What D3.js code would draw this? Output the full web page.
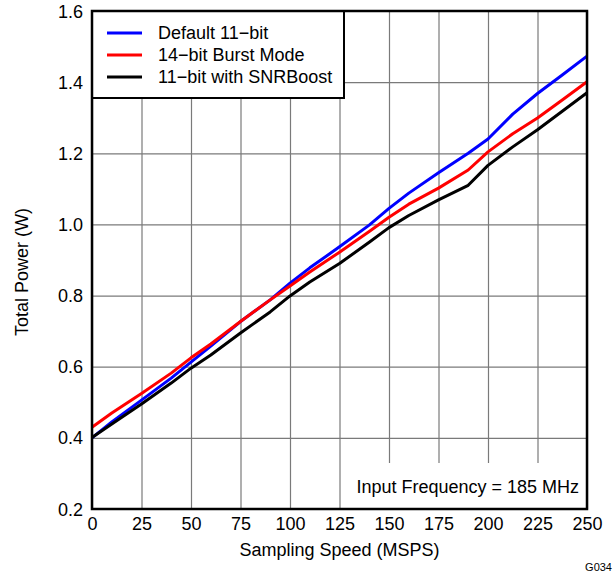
<!DOCTYPE html>
<html>
<head>
<meta charset="utf-8">
<script src="https://cdn.jsdelivr.net/npm/d3@7/dist/d3.min.js"></script>
<style>
    html, body { margin: 0; padding: 0; background: #fff; overflow: hidden; }
    svg { display: block; }
    text { font-family: "Liberation Sans", Arial, sans-serif; fill: #000; }
</style>
</head>
<body>
<div id="chart"></div>
<script>
// Sampling speeds (MSPS) shared by every series
const speeds = [0, 10, 25, 40, 50, 60, 75, 90, 100, 110, 125, 140, 150, 160, 175, 190, 200, 212.5, 225, 237.5, 250];

// Total power (W)
const default11 = [0.400, 0.445, 0.506, 0.568, 0.613, 0.658, 0.727, 0.788, 0.835, 0.878, 0.937, 0.998, 1.045, 1.088, 1.145, 1.200, 1.240, 1.310, 1.368, 1.420, 1.473];
const burst14   = [0.430, 0.470, 0.525, 0.582, 0.625, 0.664, 0.727, 0.788, 0.827, 0.866, 0.922, 0.980, 1.020, 1.057, 1.102, 1.153, 1.204, 1.255, 1.299, 1.350, 1.401];
const snrBoost  = [0.401, 0.439, 0.495, 0.554, 0.596, 0.633, 0.695, 0.754, 0.799, 0.838, 0.890, 0.950, 0.991, 1.025, 1.069, 1.110, 1.166, 1.218, 1.266, 1.318, 1.370];

const seriesNames  = ["Default 11\u2212bit", "14\u2212bit Burst Mode", "11\u2212bit with SNRBoost"];
const seriesColors = ["#0000ff", "#ff0000", "#000000"];
const seriesValues = [default11, burst14, snrBoost];

const xTicks = [0, 25, 50, 75, 100, 125, 150, 175, 200, 225, 250];
const yTicks = [0.2, 0.4, 0.6, 0.8, 1.0, 1.2, 1.4, 1.6];

const width = 616, height = 575;
const margin = {top: 11, right: 29, bottom: 66, left: 92};
const innerWidth = width - margin.left - margin.right;
const innerHeight = height - margin.top - margin.bottom;

const svg = d3.select("#chart").append("svg")
    .attr("width", width)
    .attr("height", height);

const g = svg.append("g")
    .attr("transform", `translate(${margin.left}, ${margin.top})`);

const x = d3.scaleLinear().domain([0, 250]).range([0, innerWidth]);
const y = d3.scaleLinear().domain([0.2, 1.6]).range([innerHeight, 0]);

// grid + tick labels, gridlines span the full plot
const xAxis = g.append("g")
    .attr("transform", `translate(0, ${innerHeight})`)
    .call(d3.axisBottom(x).tickValues(xTicks).tickSizeInner(-innerHeight).tickSizeOuter(0).tickPadding(8));

const yAxis = g.append("g")
    .call(d3.axisLeft(y).tickValues(yTicks).tickFormat(d3.format(".1f")).tickSizeInner(-innerWidth).tickSizeOuter(0).tickPadding(9));

[xAxis, yAxis].forEach(axis => {
    axis.attr("font-size", 18).attr("font-family", "Liberation Sans, Arial, sans-serif");
    axis.select(".domain").remove();
    axis.selectAll(".tick line").attr("stroke", "#7a7a7a").attr("stroke-width", 1.2);
});

// plain baselines instead of dy offsets
xAxis.selectAll(".tick text").attr("dy", null).attr("y", 21);
yAxis.selectAll(".tick text").attr("dy", null).attr("y", 6);

// curves
const line = d3.line()
    .x((d, i) => x(speeds[i]))
    .y(d => y(d));

seriesValues.forEach((values, i) => {
    g.append("path")
        .datum(values)
        .attr("fill", "none")
        .attr("stroke", seriesColors[i])
        .attr("stroke-width", 3)
        .attr("stroke-linejoin", "round")
        .attr("d", line);
});

// annotation box sits over the gridlines
const note = g.append("g");
note.append("rect")
    .attr("x", x(128)).attr("y", innerHeight - 46)
    .attr("width", innerWidth - x(128)).attr("height", 46)
    .attr("fill", "#fff");
note.append("text")
    .attr("x", innerWidth - 8).attr("y", innerHeight - 16)
    .attr("text-anchor", "end")
    .style("font-size", "18px")
    .text("Input Frequency = 185 MHz");

// legend
const legend = g.append("g");
legend.append("rect")
    .attr("x", 0).attr("y", 0)
    .attr("width", 252).attr("height", 87)
    .attr("fill", "#fff")
    .attr("stroke", "#000").attr("stroke-width", 2);

seriesNames.forEach((name, i) => {
    const rowY = 22 + i * 22;
    legend.append("line")
        .attr("x1", 15).attr("x2", 50)
        .attr("y1", rowY).attr("y2", rowY)
        .attr("stroke", seriesColors[i]).attr("stroke-width", 3);
    legend.append("text")
        .attr("x", 66).attr("y", rowY + 6)
        .style("font-size", "18px")
        .text(name);
});

// plot frame
g.append("rect")
    .attr("width", innerWidth).attr("height", innerHeight)
    .attr("fill", "none")
    .attr("stroke", "#000").attr("stroke-width", 2.5);

// axis titles
svg.append("text")
    .attr("x", margin.left + innerWidth / 2).attr("y", 556)
    .attr("text-anchor", "middle")
    .style("font-size", "18px")
    .text("Sampling Speed (MSPS)");

svg.append("text")
    .attr("transform", `translate(28, 272) rotate(-90)`)
    .attr("text-anchor", "middle")
    .style("font-size", "18px")
    .text("Total Power (W)");

svg.append("text")
    .attr("x", 612).attr("y", 571)
    .attr("text-anchor", "end")
    .style("font-size", "11px")
    .text("G034");
</script>
</body>
</html>
